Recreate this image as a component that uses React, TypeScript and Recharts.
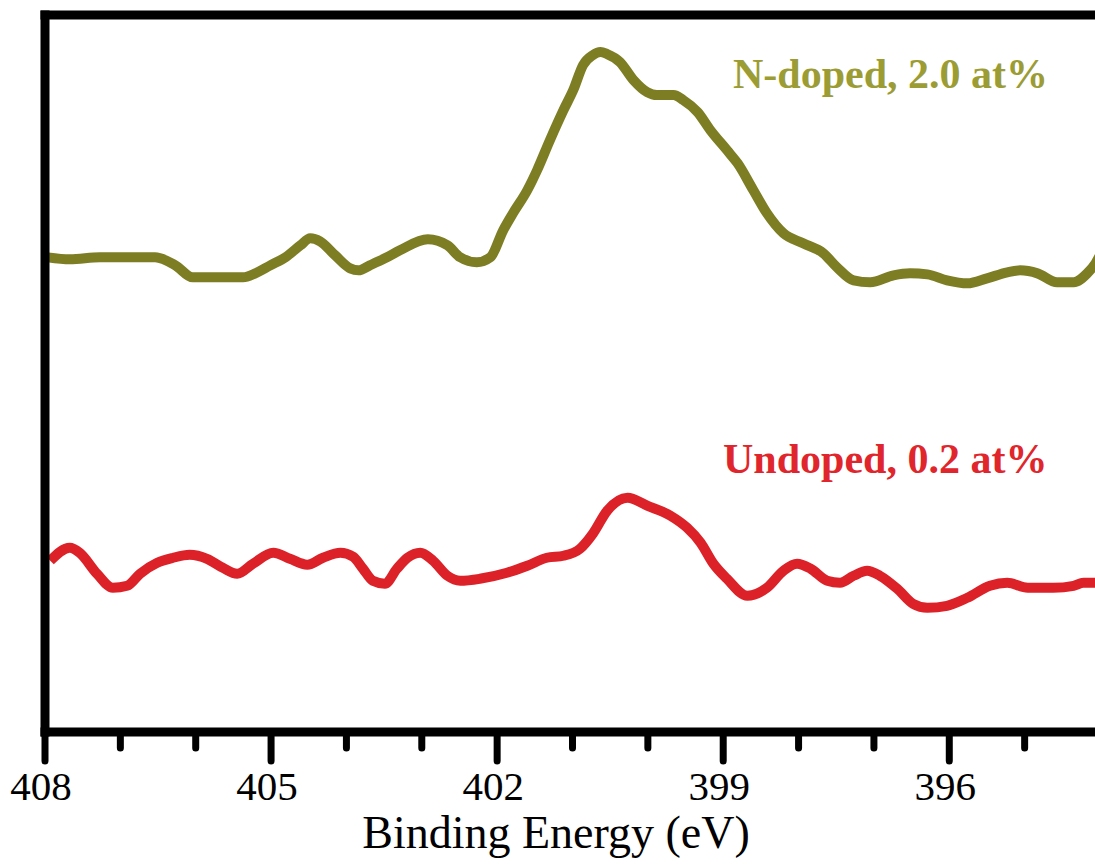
import React from 'react';
import { LineChart, Line, XAxis, YAxis, ReferenceLine, Customized } from 'recharts';

// N 1s XPS spectra, binding energy in eV, intensity in arbitrary units
const nDopedEnergy = [
  407.96, 407.67, 407.27, 406.54, 406.27, 406.04, 405.37, 405.21, 405.01, 404.81,
  404.61, 404.48, 404.35, 404.15, 403.95, 403.84, 403.69, 403.49, 403.29, 402.92,
  402.66, 402.49, 402.27, 402.09, 401.92, 401.79, 401.6, 401.47, 401.3, 401.12,
  400.99, 400.86, 400.73, 400.63, 400.54, 400.37, 400.19, 400.01, 399.88, 399.66,
  399.53, 399.34, 399.17, 398.95, 398.81, 398.6, 398.42, 398.2, 397.94, 397.67,
  397.49, 397.27, 397.05, 396.74, 396.52, 396.29, 396.03, 395.76, 395.5, 395.23,
  395.06, 394.83, 394.57, 394.35, 394.17, 394.06, 394.0
];
const nDopedIntensity = [
  474, 472, 474, 474, 466, 454, 454, 458, 466, 474,
  486, 493, 490, 476, 463, 461, 466, 473, 481, 492,
  486, 474, 469, 474, 501, 518, 541, 561, 591, 621,
  641, 666, 676, 679, 677, 669, 651, 639, 636, 636,
  631, 619, 601, 581, 568, 541, 518, 498, 488, 478,
  464, 451, 449, 456, 458, 457, 451, 448, 453, 459,
  461, 458, 449, 449, 458, 468, 476
];

const undopedEnergy = [
  407.93, 407.67, 407.54, 407.31, 407.1, 406.91, 406.74, 406.51, 406.3, 406.08,
  405.85, 405.64, 405.45, 405.24, 404.97, 404.75, 404.52, 404.31, 404.08, 403.91,
  403.78, 403.65, 403.49, 403.33, 403.19, 403.02, 402.85, 402.66, 402.49, 402.23,
  401.87, 401.6, 401.34, 401.12, 400.9, 400.73, 400.54, 400.27, 400.01, 399.7,
  399.48, 399.3, 399.13, 398.95, 398.68, 398.42, 398.2, 398.02, 397.84, 397.62,
  397.45, 397.27, 397.09, 396.92, 396.69, 396.48, 396.29, 396.03, 395.76, 395.46,
  395.23, 394.96, 394.62, 394.35, 394.22, 394.06, 394.0
];
const undopedIntensity = [
  171, 184, 179, 158, 144, 146, 158, 169, 174, 177,
  173, 164, 158, 168, 179, 173, 167, 174, 179, 175,
  163, 151, 148, 163, 174, 179, 171, 156, 151, 153,
  159, 166, 174, 176, 183, 198, 221, 234, 226, 216,
  204, 189, 168, 153, 136, 144, 161, 168, 163, 151,
  149, 156, 161, 156, 143, 128, 124, 126, 134, 146,
  149, 144, 144, 146, 149, 149, 151
];

const allTicks = [408, 407, 406, 405, 404, 403, 402, 401, 400, 399, 398, 397, 396, 395];
const majorTicks = [408, 405, 402, 399, 396];

const nDopedData = nDopedEnergy.map((e, i) => ({ energy: e, value: nDopedIntensity[i] }));
const undopedData = undopedEnergy.map((e, i) => ({ energy: e, value: undopedIntensity[i] }));

const SERIF = '"Liberation Serif", "Times New Roman", serif';

const EnergyTick = (props: any) => {
  const { x, y, payload } = props;
  const major = majorTicks.includes(payload.value);
  return (
    <g>
      <line x1={x} y1={y} x2={x} y2={y + (major ? 29 : 16)} stroke="#000" strokeWidth={7} strokeLinecap="round" />
      {major && (
        <text x={x - 4} y={y + 68} textAnchor="middle" fontFamily={SERIF} fontSize={41} fill="#000">
          {payload.value}
        </text>
      )}
    </g>
  );
};

const Annotations = () => (
  <g fontFamily={SERIF} fontWeight="bold" fontSize={42}>
    <text x={733} y={88} fill="#9c9c34">N-doped, 2.0 at%</text>
    <text x={723} y={473} fill="#e0262c">Undoped, 0.2 at%</text>
  </g>
);

export default function App() {
  return (
    <div style={{ position: 'fixed', left: 0, top: 0, width: 1095, height: 864, overflow: 'hidden', background: '#fff' }}>
      <LineChart width={1110} height={864} margin={{ top: 15, right: 10, left: 0, bottom: 0 }}>
        <XAxis
          dataKey="energy"
          type="number"
          domain={[394, 408]}
          reversed
          ticks={allTicks}
          interval={0}
          allowDuplicatedCategory={false}
          tickSize={0}
          tickMargin={0}
          tickLine={false}
          tick={<EnergyTick />}
          height={132}
          axisLine={{ stroke: '#000', strokeWidth: 9, strokeLinecap: 'square' }}
          label={{
            content: () => (
              <text x={556} y={848} textAnchor="middle" fontFamily={SERIF} fontSize={46} fill="#000">
                Binding Energy (eV)
              </text>
            ),
          }}
        />
        <YAxis
          type="number"
          domain={[0, 716]}
          width={45}
          tick={false}
          tickLine={false}
          axisLine={{ stroke: '#000', strokeWidth: 9, strokeLinecap: 'square' }}
        />
        <ReferenceLine y={716} stroke="#000" strokeWidth={9} strokeLinecap="square" />
        <Line
          data={nDopedData}
          dataKey="value"
          type="monotone"
          stroke="#7d7d24"
          strokeWidth={10}
          dot={false}
          isAnimationActive={false}
        />
        <Line
          data={undopedData}
          dataKey="value"
          type="monotone"
          stroke="#dc2228"
          strokeWidth={10}
          dot={false}
          isAnimationActive={false}
        />
        <Customized component={Annotations} />
      </LineChart>
    </div>
  );
}
